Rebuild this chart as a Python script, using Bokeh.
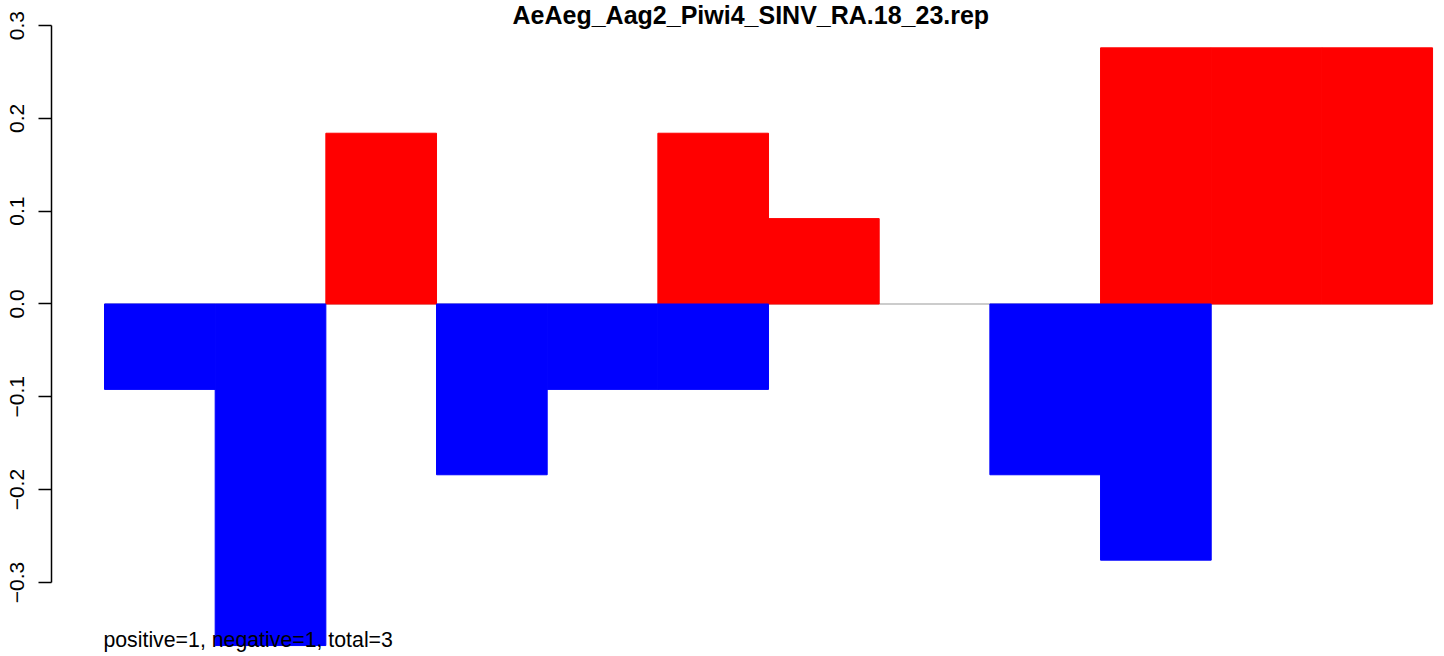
from bokeh.plotting import figure
from bokeh.models import Range1d, FixedTicker, CustomJSTickFormatter, Label, ColumnDataSource
from bokeh.embed import file_html
from bokeh.resources import INLINE

# ---- data ----
title_text = "AeAeg_Aag2_Piwi4_SINV_RA.18_23.rep"
footer_text = "positive=1, negative=1, total=3"
positions = list(range(1, 13))
pos_values = [0, 0, 0.184, 0, 0, 0.184, 0.092, 0, 0, 0.276, 0.276, 0.276]
neg_values = [-0.092, -0.368, 0, -0.184, -0.092, -0.092, 0, 0, -0.184, -0.276, 0, 0]
y_ticks = [-0.3, -0.2, -0.1, 0.0, 0.1, 0.2, 0.3]

FONT = "Liberation Sans"

p = figure(width=1444, height=656, output_backend="svg", toolbar_location=None,
           x_range=Range1d(-0.479, 12.108), y_range=Range1d(-0.3798, 0.3270),
           min_border_left=51, min_border_right=0, min_border_top=0, min_border_bottom=0)
p.outline_line_color = None
p.xgrid.visible = False
p.ygrid.visible = False
p.xaxis.visible = False
p.background_fill_color = "white"
p.border_fill_color = "white"

xc = [x - 0.5 for x in positions]

# zero reference line across the bars
p.line(x=[xc[0] - 0.5, xc[-1] + 0.5], y=[0, 0], line_color="#999999", line_width=1.2)

pos_src = ColumnDataSource(dict(
    x=[x for x, v in zip(xc, pos_values) if v != 0],
    top=[v for v in pos_values if v != 0]))
neg_src = ColumnDataSource(dict(
    x=[x for x, v in zip(xc, neg_values) if v != 0],
    bottom=[v for v in neg_values if v != 0]))

p.vbar(x="x", width=1.0, bottom=0, top="top", source=pos_src,
       fill_color="#ff0000", line_color="#ff0000", line_width=1)
p.vbar(x="x", width=1.0, bottom="bottom", top=0, source=neg_src,
       fill_color="#0000ff", line_color="#0000ff", line_width=1)

ax = p.yaxis[0]
ax.ticker = FixedTicker(ticks=y_ticks)
ax.formatter = CustomJSTickFormatter(code="return (tick < -1e-9 ? '\u2212' : '') + Math.abs(tick).toFixed(1);")
ax.bounds = (min(y_ticks), max(y_ticks))
ax.minor_tick_line_color = None
ax.major_tick_out = 13
ax.major_tick_in = 0
ax.major_label_standoff = 14
ax.major_label_orientation = "vertical"
ax.major_label_text_font = FONT
ax.major_label_text_font_size = "21px"
ax.major_label_text_color = "black"
ax.axis_line_color = "black"
ax.axis_line_width = 1.5
ax.major_tick_line_width = 1.5

p.add_layout(Label(x=5.84, y=0.3109, text=title_text, text_font=FONT,
                   text_font_size="25px", text_font_style="bold", text_color="black",
                   text_align="center", text_baseline="middle"))
p.add_layout(Label(x=-0.01, y=-0.3615, text=footer_text, text_font=FONT,
                   text_font_size="21.3px", text_align="left", text_color="black",
                   text_baseline="middle"))

open("out.html", "w").write(file_html(p, INLINE))
